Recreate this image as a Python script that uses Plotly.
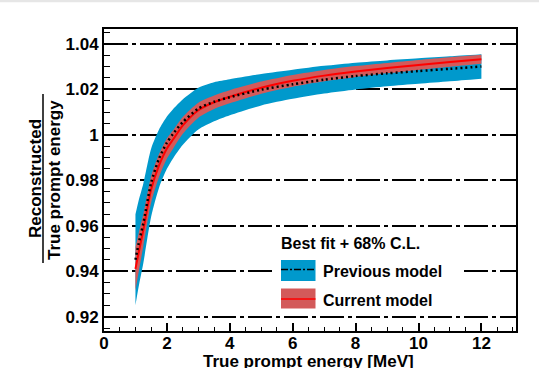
import plotly.graph_objects as go

# ---------------- data ----------------
energy = [1.0, 1.1, 1.25, 1.5, 1.75, 2.0, 2.2, 2.5, 3.0, 3.5, 4.0, 5.0, 6.0, 7.0, 8.0, 9.0, 10.0, 11.0, 12.0]
prev_center = [0.945, 0.952, 0.961, 0.979, 0.9895, 0.9965, 1.0005, 1.0055, 1.0115, 1.0145, 1.0165, 1.0198,
               1.0222, 1.0242, 1.0258, 1.0270, 1.0280, 1.0290, 1.0300]
prev_halfwidth = [0.020, 0.019, 0.0175, 0.015, 0.0128, 0.0115, 0.0108, 0.010, 0.0092, 0.0086, 0.0079, 0.0069,
                  0.0064, 0.0061, 0.0059, 0.0057, 0.0056, 0.0055, 0.0054]
curr_center = [0.941, 0.948, 0.958, 0.976, 0.9865, 0.9940, 0.998, 1.0040, 1.0108, 1.0143, 1.0167, 1.0207,
               1.0237, 1.0260, 1.0278, 1.0293, 1.0307, 1.0320, 1.0332]
curr_halfwidth = [0.0095, 0.0085, 0.007, 0.0058, 0.005, 0.0044, 0.004, 0.0037, 0.0033, 0.003, 0.0029, 0.0027,
                  0.0026, 0.0025, 0.0024, 0.0023, 0.0022, 0.0021, 0.0020]

y_tick_vals = [0.92, 0.94, 0.96, 0.98, 1.00, 1.02, 1.04]
y_tick_text = ["0.92", "0.94", "0.96", "0.98", "1", "1.02", "1.04"]
x_tick_vals = [0, 2, 4, 6, 8, 10, 12]
x_tick_text = ["0", "2", "4", "6", "8", "10", "12"]

series_names = ["Previous model", "Current model"]
legend_header = "Best fit + 68% C.L."
x_title = "True prompt energy [MeV]"
y_title_num = "Reconstructed"
y_title_den = "True prompt energy"

# ---------------- styling ----------------
W, H = 539, 368
L, R, T, B = 104, 516, 29, 331
BLUE = "#0099CC"
REDFILL = "#D35A5A"
RED = "#FF0000"
FONT = "Liberation Sans"
SPL = dict(shape="spline", smoothing=0.7)


def px_x(p):
    return (p - L) / (R - L)


def px_y(p):
    return (B - p) / (B - T)


prev_lo = [c - h for c, h in zip(prev_center, prev_halfwidth)]
prev_hi = [c + h for c, h in zip(prev_center, prev_halfwidth)]
curr_lo = [c - h for c, h in zip(curr_center, curr_halfwidth)]
curr_hi = [c + h for c, h in zip(curr_center, curr_halfwidth)]

fig = go.Figure()
fig.add_trace(go.Scatter(x=energy, y=prev_lo, mode="lines", line=dict(width=0, color=BLUE, **SPL),
                         showlegend=False, hoverinfo="skip"))
fig.add_trace(go.Scatter(x=energy, y=prev_hi, mode="lines", line=dict(width=0, color=BLUE, **SPL),
                         fill="tonexty", fillcolor=BLUE, name=series_names[0], showlegend=False))
fig.add_trace(go.Scatter(x=energy, y=curr_lo, mode="lines", line=dict(width=0, color=REDFILL, **SPL),
                         showlegend=False, hoverinfo="skip"))
fig.add_trace(go.Scatter(x=energy, y=curr_hi, mode="lines", line=dict(width=0, color=REDFILL, **SPL),
                         fill="tonexty", fillcolor=REDFILL, name=series_names[1], showlegend=False))
fig.add_trace(go.Scatter(x=energy, y=curr_center, mode="lines",
                         line=dict(width=2, color=RED, **SPL), showlegend=False))
fig.add_trace(go.Scatter(x=energy, y=prev_center, mode="lines",
                         line=dict(width=2.5, color="black", dash="2px,3px", **SPL), showlegend=False))

tickfont = dict(family=FONT, size=17, color="black", weight="bold")

fig.update_xaxes(range=[0, 13.1], tickvals=x_tick_vals, ticktext=x_tick_text, ticks="inside", ticklen=8,
                 tickwidth=1.5, tickcolor="black", showline=True, linewidth=2, linecolor="black", mirror=True,
                 showgrid=False, zeroline=False, tickfont=tickfont, ticklabelstandoff=-4,
                 minor=dict(dtick=0.5, tick0=0, ticks="inside", ticklen=4, tickwidth=1.2, tickcolor="black",
                            showgrid=False))
fig.update_yaxes(range=[0.9137, 1.0465], tickvals=y_tick_vals, ticktext=y_tick_text, ticks="inside", ticklen=8,
                 tickwidth=1.5, tickcolor="black", showline=True, linewidth=2, linecolor="black", mirror=True,
                 showgrid=True, gridcolor="black", gridwidth=1.6, griddash="24px,4px,4px,4px",
                 zeroline=False, tickfont=tickfont,
                 minor=dict(dtick=0.005, tick0=0.92, ticks="inside", ticklen=6, tickwidth=1.2, tickcolor="black",
                            showgrid=False))

shapes = []
annotations = []
# grey strip at very top of page
shapes.append(dict(type="rect", xref="paper", yref="paper", x0=px_x(-5), x1=px_x(W + 5), y0=px_y(2.2),
                   y1=px_y(-5), fillcolor="#E6E6E6", line=dict(width=0), layer="above"))

# y-axis fraction title
annotations.append(dict(text=y_title_num, xref="paper", yref="paper", x=px_x(35), y=px_y(179), showarrow=False,
                        textangle=-90, xanchor="center", yanchor="middle",
                        font=dict(family=FONT, size=17, color="black", weight="bold")))
annotations.append(dict(text=y_title_den, xref="paper", yref="paper", x=px_x(54), y=px_y(180), showarrow=False,
                        textangle=-90, xanchor="center", yanchor="middle",
                        font=dict(family=FONT, size=17, color="black", weight="bold")))
shapes.append(dict(type="line", xref="paper", yref="paper", x0=px_x(43), x1=px_x(43), y0=px_y(94), y1=px_y(263),
                   line=dict(color="black", width=1.5)))

# x-axis title
annotations.append(dict(text=x_title, xref="paper", yref="paper", x=px_x(308), y=px_y(350), showarrow=False,
                        xanchor="center", yanchor="top",
                        font=dict(family=FONT, size=17, color="black", weight="bold")))

# legend (drawn manually)
shapes.append(dict(type="rect", xref="paper", yref="paper", x0=px_x(276), x1=px_x(462), y0=px_y(312),
                   y1=px_y(231), fillcolor="white", line=dict(width=0), layer="above"))
shapes.append(dict(type="rect", xref="paper", yref="paper", x0=px_x(281), x1=px_x(315.5), y0=px_y(281),
                   y1=px_y(260), fillcolor=BLUE, line=dict(width=0), layer="above"))
shapes.append(dict(type="line", xref="paper", yref="paper", x0=px_x(281), x1=px_x(315.5), y0=px_y(269.5),
                   y1=px_y(269.5), line=dict(color="black", width=1.5, dash="7px,2px,2px,2px"), layer="above"))
shapes.append(dict(type="rect", xref="paper", yref="paper", x0=px_x(281), x1=px_x(315.5), y0=px_y(308.5),
                   y1=px_y(288.5), fillcolor=REDFILL, line=dict(width=0), layer="above"))
shapes.append(dict(type="line", xref="paper", yref="paper", x0=px_x(281), x1=px_x(315.5), y0=px_y(299),
                   y1=px_y(299), line=dict(color=RED, width=1.5), layer="above"))
legfont = dict(family=FONT, size=16, color="black", weight="bold")
annotations.append(dict(text=legend_header, xref="paper", yref="paper", x=px_x(279), y=px_y(243),
                        showarrow=False, xanchor="left", yanchor="middle", font=legfont))
annotations.append(dict(text=series_names[0], xref="paper", yref="paper", x=px_x(321), y=px_y(271),
                        showarrow=False, xanchor="left", yanchor="middle", font=legfont))
annotations.append(dict(text=series_names[1], xref="paper", yref="paper", x=px_x(321), y=px_y(300),
                        showarrow=False, xanchor="left", yanchor="middle", font=legfont))

fig.update_layout(width=W, height=H, margin=dict(l=L, r=W - R, t=T, b=H - B, pad=0),
                  paper_bgcolor="white", plot_bgcolor="white", showlegend=False,
                  shapes=shapes, annotations=annotations)

fig.write_html("out.html", config={"displayModeBar": False},
               post_script="document.body.style.margin='0';document.body.style.padding='0';")
